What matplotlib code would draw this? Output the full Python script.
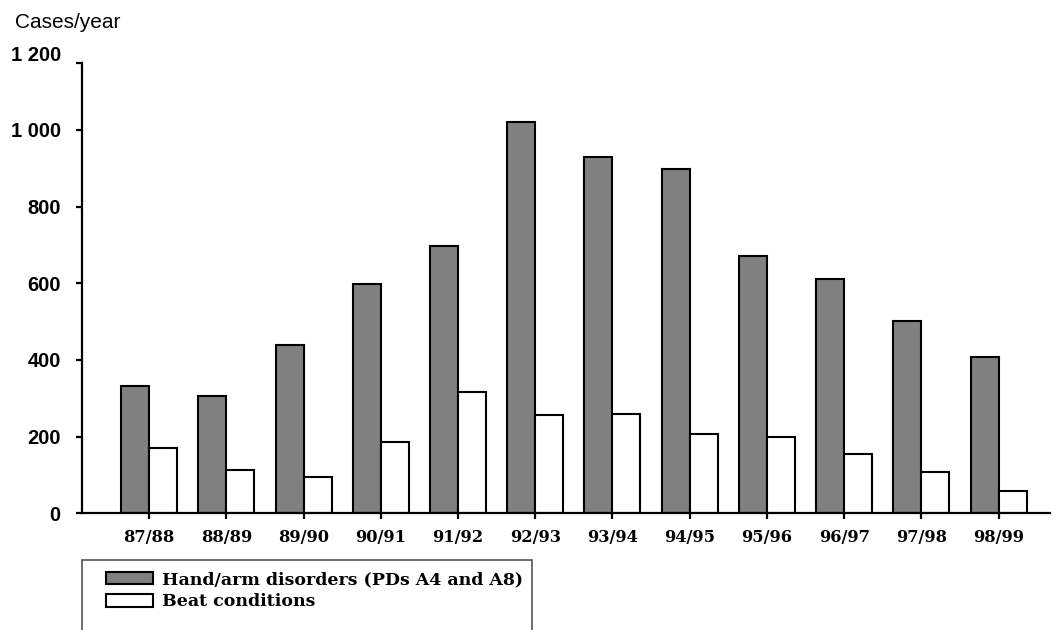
import numpy as np
import matplotlib
matplotlib.use("Agg")
import matplotlib.pyplot as plt
from matplotlib.patches import Rectangle

# Data
years = ['87/88', '88/89', '89/90', '90/91', '91/92', '92/93',
         '93/94', '94/95', '95/96', '96/97', '97/98', '98/99']
hand_arm = [332, 306, 439, 598, 698, 1022, 930, 899, 671, 611, 502, 409]
beat = [171, 112, 95, 187, 316, 257, 258, 207, 200, 155, 108, 59]

y_ticks = [0, 200, 400, 600, 800, 1000, 1200]
y_labels = ['0', '200', '400', '600', '800', '1 000', '1 200']

W, H = 1058, 630
fig = plt.figure(figsize=(W / 100, H / 100), dpi=100)
ax = fig.add_axes([81.7 / W, 1 - 513.3 / H, (1050 - 81.7) / W, (513.3 - 53.3) / H])

x = np.arange(len(years))
bw = 0.363
ax.bar(x - bw / 2, hand_arm, bw, color='#808080', edgecolor='black', linewidth=1.5,
       label='Hand/arm disorders (PDs A4 and A8)')
ax.bar(x + bw / 2, beat, bw, color='white', edgecolor='black', linewidth=1.5,
       label='Beat conditions')

ax.set_xlim(-0.873, 11.666)
ax.set_ylim(0, 1200)

# Axes styling
for side in ['top', 'right']:
    ax.spines[side].set_visible(False)
ax.spines['left'].set_linewidth(1.6)
ax.spines['bottom'].set_linewidth(1.6)
ax.spines['left'].set_bounds(0, 1175)

ax.set_xticks(x)
ax.set_xticklabels(years, fontfamily='DejaVu Serif', fontweight='bold', fontsize=11.7)
ax.tick_params(axis='x', direction='out', length=4, width=1.6, pad=7)

ax.set_yticks(y_ticks)
ax.set_yticklabels(y_labels, fontfamily='Liberation Sans', fontweight='bold', fontsize=14.5)
ax.tick_params(axis='y', direction='out', length=4, width=1.6, pad=11)
ax.yaxis.get_major_ticks()[-1].tick1line.set_visible(False)
ax.set_yticks([1175], minor=True)
ax.tick_params(axis='y', which='minor', direction='out', length=4, width=1.6)

fig.text(15 / W, 1 - 23 / H, 'Cases/year', fontfamily='Liberation Sans', fontsize=15,
         ha='left', va='center')

# Legend (frame runs past the bottom of the figure in the reference)
fig.add_artist(Rectangle((82 / W, -20 / H), 450 / W, 90 / H,
                         transform=fig.transFigure, fill=False, edgecolor='#555555',
                         linewidth=1.2, clip_on=False))
leg = ax.legend(loc='upper left', bbox_to_anchor=(106 / W, 1 - 571 / H),
                bbox_transform=fig.transFigure, frameon=False,
                prop={'family': 'DejaVu Serif', 'weight': 'bold', 'size': 12.5},
                handlelength=2.7, handleheight=0.75, handletextpad=0.5,
                labelspacing=0.3, borderpad=0, borderaxespad=0)

fig.savefig('out.png', dpi=100)
